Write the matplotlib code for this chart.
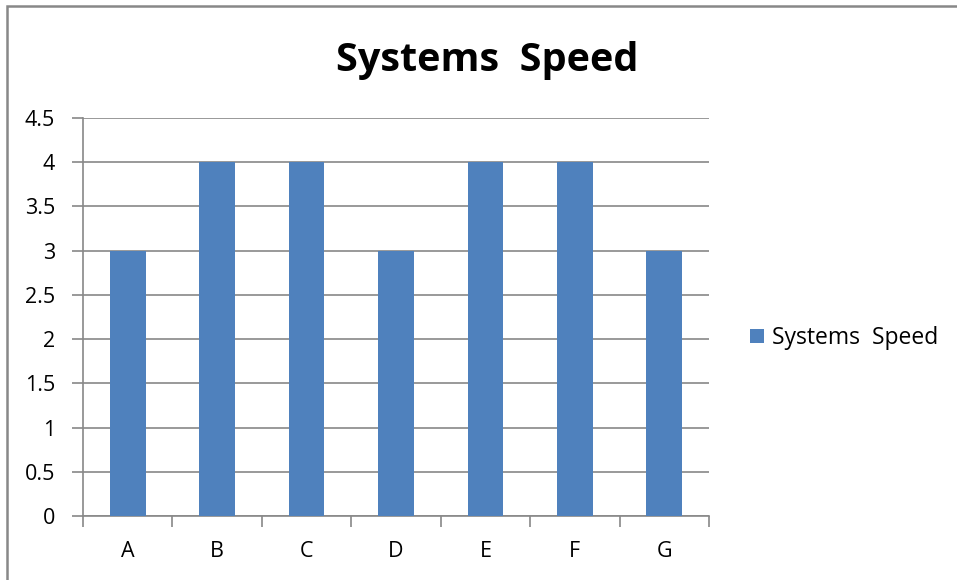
import matplotlib
matplotlib.use("Agg")
import matplotlib.pyplot as plt
from matplotlib.patches import Rectangle
import numpy as np

plt.rcParams['font.family'] = ['Open Sans', 'DejaVu Sans']

categories = ["A", "B", "C", "D", "E", "F", "G"]
speed = [3, 4, 4, 3, 4, 4, 3]
series_name = "Systems  Speed"
y_ticks = [0, 0.5, 1, 1.5, 2, 2.5, 3, 3.5, 4, 4.5]
y_tick_labels = ["0", "0.5", "1", "1.5", "2", "2.5", "3", "3.5", "4", "4.5"]

bar_color = "#4F81BD"
axis_gray = "#888888"

fig = plt.figure(figsize=(9.57, 5.8), dpi=100)
W, H = 957, 580
ax = fig.add_axes([83 / W, 64 / H, (709 - 83) / W, (516 - 118) / H])

x = np.arange(len(categories))
ax.bar(x, speed, width=0.40, color=bar_color, label=series_name, zorder=3)

ax.set_xlim(-0.5, len(categories) - 0.5)
ax.set_ylim(0, 4.5)
ax.set_yticks(y_ticks)
ax.set_yticklabels(y_tick_labels)
ax.yaxis.grid(True, color=axis_gray, linewidth=1.2, zorder=0)
ax.tick_params(axis='y', length=8, width=1.2, color=axis_gray, labelsize=15.5, pad=12)

# category labels centred, tick marks on category boundaries
ax.set_xticks(x)
ax.set_xticklabels(categories)
ax.tick_params(axis='x', which='major', length=0, labelsize=15.5, pad=18)
ax.set_xticks(np.arange(-0.5, len(categories)), minor=True)
ax.tick_params(axis='x', which='minor', length=8, width=1.2, color=axis_gray)

for side in ("top", "right"):
    ax.spines[side].set_visible(False)
for side in ("left", "bottom"):
    ax.spines[side].set_color(axis_gray)
    ax.spines[side].set_linewidth(1.2)

fig.text(487 / W, 1 - 60 / H, "Systems  Speed", ha="center", va="center",
         fontsize=28.5, fontweight="bold")

ax.legend(loc="center left", bbox_to_anchor=(750 / W, 1 - 338 / H),
          bbox_transform=fig.transFigure, frameon=False, fontsize=16.5,
          handlelength=0.6, handleheight=0.6, handletextpad=0.35,
          borderpad=0, borderaxespad=0)

# chart area border
fig.patches.append(Rectangle((7 / W, -0.2), 2.0, 1 - 6 / H + 0.2,
                             transform=fig.transFigure, fill=False,
                             edgecolor=axis_gray, linewidth=1.8))

fig.savefig("out.png", dpi=100)
